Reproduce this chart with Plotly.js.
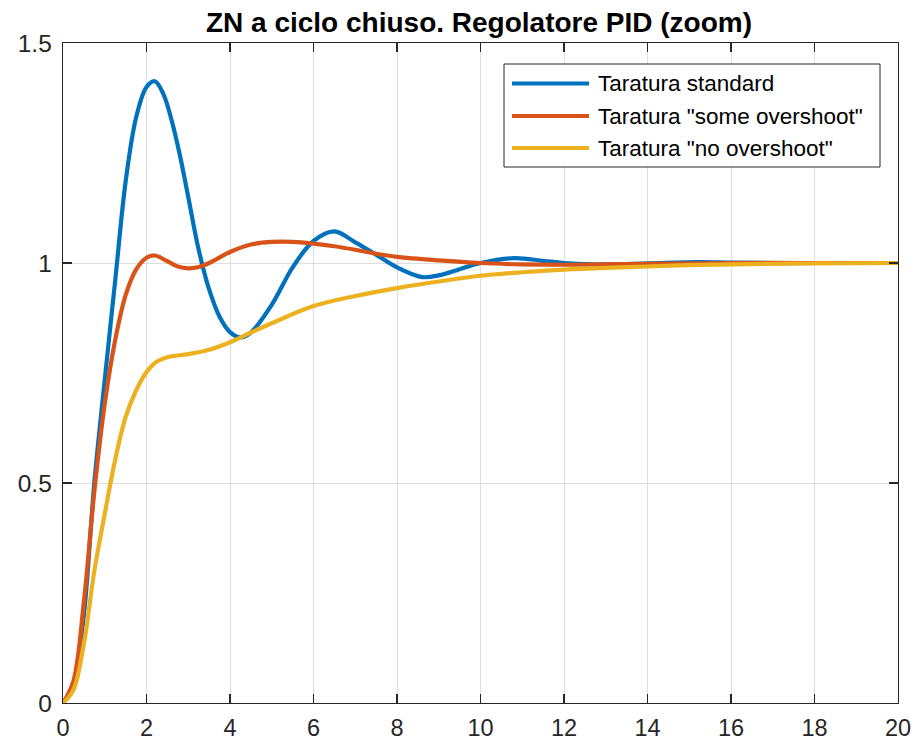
<!DOCTYPE html>
<html>
<head>
<meta charset="utf-8">
<script src="https://cdn.plot.ly/plotly-3.0.1.min.js"></script>
<style>html,body{margin:0;padding:0;background:#fff;}#chart{width:915px;height:743px;}</style>
</head>
<body>
<div id="chart"></div>
<script>
// Series names
var seriesNames = ['Taratura standard', 'Taratura "some overshoot"', 'Taratura "no overshoot"'];
var seriesColors = ['#0072BD', '#D95319', '#EDB120'];

// Taratura standard
var tStd = [0, 0.25, 0.5, 0.75, 1.0, 1.25, 1.5, 1.75, 2.0, 2.2, 2.4, 2.6, 2.8, 3.0, 3.25, 3.5, 3.75, 4.0, 4.25, 4.5, 5.0, 5.5, 6.0, 6.5, 7.0, 7.5, 8.0, 8.6, 9.0, 9.5, 10, 10.8, 11.5, 12, 13, 14, 15.2, 16, 17, 18, 20];
var yStd = [0, 0.04, 0.2, 0.5, 0.735, 0.96, 1.185, 1.33, 1.40, 1.413, 1.385, 1.325, 1.245, 1.15, 1.03, 0.94, 0.878, 0.843, 0.831, 0.842, 0.905, 0.99, 1.05, 1.072, 1.047, 1.019, 0.99, 0.968, 0.972, 0.986, 1.0, 1.011, 1.005, 1.0, 0.997, 0.999, 1.002, 1.001, 1.0, 1.0, 1.0];

// Taratura "some overshoot"
var tSome = [0, 0.25, 0.5, 0.75, 1.0, 1.25, 1.5, 1.75, 2.0, 2.2, 2.5, 2.75, 3.0, 3.25, 3.5, 4.0, 4.5, 5.0, 5.5, 6.0, 6.5, 7.0, 7.5, 8.0, 9.0, 10, 11, 12, 13, 14, 16, 18, 20];
var ySome = [0, 0.05, 0.23, 0.48, 0.68, 0.825, 0.927, 0.985, 1.012, 1.017, 1.004, 0.992, 0.988, 0.991, 1.0, 1.025, 1.042, 1.048, 1.048, 1.044, 1.038, 1.03, 1.021, 1.014, 1.006, 1.0, 0.997, 0.996, 0.997, 0.998, 1.0, 1.0, 1.0];

// Taratura "no overshoot"
var tNo = [0, 0.25, 0.5, 0.75, 1.0, 1.25, 1.5, 1.75, 2.0, 2.25, 2.5, 3.0, 3.5, 4.0, 4.5, 5.0, 6.0, 7.0, 8.0, 9.0, 10, 11, 12, 13, 14, 15, 16, 18, 20];
var yNo = [0, 0.03, 0.135, 0.3, 0.43, 0.553, 0.65, 0.71, 0.752, 0.776, 0.786, 0.793, 0.803, 0.82, 0.842, 0.863, 0.902, 0.925, 0.943, 0.958, 0.971, 0.979, 0.985, 0.989, 0.992, 0.995, 0.997, 0.999, 1.0];

// Axis ticks
var xTicks = [0, 2, 4, 6, 8, 10, 12, 14, 16, 18, 20];
var yTicks = [0, 0.5, 1, 1.5];
var yTickText = ['0', '0.5', '1', '1.5'];

var xs = [tStd, tSome, tNo];
var ys = [yStd, ySome, yNo];
var traces = xs.map(function (x, i) {
  return {
    x: x, y: ys[i], type: 'scatter', mode: 'lines', name: seriesNames[i],
    line: {color: seriesColors[i], width: 4.2, shape: 'spline', smoothing: 1},
    showlegend: false, hoverinfo: 'skip'
  };
});

// layout geometry (pixels)
var W = 915, H = 743, L = 63, R = 17, T = 43, B = 40;
var PW = W - L - R, PH = H - T - B;
function px(x) { return (x - L) / PW; }
function py(y) { return (H - B - y) / PH; }

var font = 'Liberation Sans, Arial, Helvetica, sans-serif';
var ink = '#262626';

var shapes = [{
  type: 'rect', xref: 'paper', yref: 'paper',
  x0: px(504), x1: px(880), y0: py(64), y1: py(167),
  line: {color: ink, width: 1}, fillcolor: '#ffffff', layer: 'above'
}];
var annotations = [];
var rowY = [83.5, 116, 148];
for (var i = 0; i < 3; i++) {
  shapes.push({
    type: 'line', xref: 'paper', yref: 'paper',
    x0: px(512), x1: px(589), y0: py(rowY[i]), y1: py(rowY[i]),
    line: {color: seriesColors[i], width: 4.2}, layer: 'above'
  });
  annotations.push({
    xref: 'paper', yref: 'paper', x: px(596), y: py(rowY[i]),
    xanchor: 'left', yanchor: 'middle', showarrow: false,
    text: seriesNames[i], font: {family: font, size: 22.5, color: '#000'}
  });
}

var layout = {
  width: W, height: H,
  margin: {l: L, r: R, t: T, b: B, pad: 0},
  paper_bgcolor: '#fff', plot_bgcolor: '#fff',
  showlegend: false,
  title: {
    text: '<b>ZN a ciclo chiuso. Regolatore PID (zoom)</b>',
    font: {family: font, size: 28, color: '#000'},
    x: px(479), xanchor: 'center', xref: 'paper',
    y: 1 - 22 / H, yanchor: 'middle'
  },
  xaxis: {
    range: [0, 20], tickvals: xTicks, ticktext: xTicks.map(String),
    ticks: 'inside', ticklen: 9, tickwidth: 1.3, tickcolor: ink,
    showline: true, linecolor: ink, linewidth: 1.3, mirror: 'ticks',
    showgrid: true, gridcolor: '#dedede', gridwidth: 1, zeroline: false,
    tickfont: {family: font, size: 23.5, color: ink}, ticklabelstandoff: 3,
    fixedrange: true
  },
  yaxis: {
    range: [0, 1.5], tickvals: yTicks, ticktext: yTickText,
    ticks: 'inside', ticklen: 9, tickwidth: 1.3, tickcolor: ink,
    showline: true, linecolor: ink, linewidth: 1.3, mirror: 'ticks',
    showgrid: true, gridcolor: '#dedede', gridwidth: 1, zeroline: false,
    tickfont: {family: font, size: 24.5, color: ink}, ticklabelstandoff: 5,
    fixedrange: true
  },
  shapes: shapes,
  annotations: annotations
};

Plotly.newPlot('chart', traces, layout, {displayModeBar: false, staticPlot: true});
</script>
</body>
</html>
